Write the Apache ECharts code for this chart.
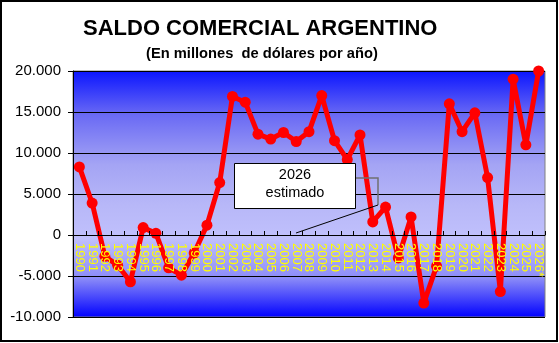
<!DOCTYPE html>
<html>
<head>
<meta charset="utf-8">
<script src="https://cdn.jsdelivr.net/npm/echarts@6/dist/echarts.min.js"></script>
<style>
  html, body { margin: 0; padding: 0; background: #fff; }
  #chart { width: 559px; height: 343px; }
</style>
</head>
<body>
<div id="chart"></div>
<script>
// Argentine trade balance, millions of US dollars per year
const years = ['1990','1991','1992','1993','1994','1995','1996','1997','1998','1999',
  '2000','2001','2002','2003','2004','2005','2006','2007','2008','2009',
  '2010','2011','2012','2013','2014','2015','2016','2017','2018','2019',
  '2020','2021','2022','2023','2024','2025','2026*'];
const balance = [8300, 3900, -2600, -3700, -5700, 900, 200, -4000, -4900, -2200,
  1200, 6400, 16900, 16200, 12300, 11700, 12500, 11400, 12600, 17000,
  11500, 9200, 12200, 1600, 3400, -2800, 2200, -8300, -3800, 16000,
  12600, 14900, 7000, -6900, 19000, 11000, 20000];
const yTicks = { min: -10000, max: 20000, step: 5000 };

const FONT = '"Liberation Sans", Arial, sans-serif';

function thousands(v) {
  const s = String(Math.abs(v)).replace(/\B(?=(\d{3})+(?!\d))/g, '.');
  return (v < 0 ? '-' : '') + s;
}

const chart = echarts.init(document.getElementById('chart'), null, { renderer: 'canvas' });

chart.setOption({
  backgroundColor: '#ffffff',
  animation: false,
  title: [
    {
      text: 'SALDO COMERCIAL ARGENTINO',
      left: 83, top: 18, padding: 0,
      textStyle: { fontFamily: FONT, fontSize: 22, fontWeight: 'bold', color: '#000' }
    },
    {
      text: '(En millones  de dólares por año)',
      left: 146, top: 46, padding: 0,
      textStyle: { fontFamily: FONT, fontSize: 14.7, fontWeight: 'bold', color: '#000' }
    }
  ],
  grid: {
    left: 73, right: 14, top: 71, bottom: 26,
    containLabel: false,
    outerBoundsMode: 'none',
    show: true,
    borderColor: '#808080',
    borderWidth: 1,
    backgroundColor: {
      type: 'linear', x: 0, y: 0, x2: 0, y2: 1,
      colorStops: [
        { offset: 0.00, color: '#0a14ff' },
        { offset: 0.18, color: '#6a6af4' },
        { offset: 0.38, color: '#a4a4f4' },
        { offset: 0.55, color: '#b8b8f8' },
        { offset: 0.68, color: '#c0c0fc' },
        { offset: 0.84, color: '#8c8cf8' },
        { offset: 1.00, color: '#0000ff' }
      ]
    }
  },
  xAxis: {
    type: 'category',
    data: years,
    z: 5,
    offset: 0,
    axisLine: { onZero: false, lineStyle: { color: '#000', width: 1 } },
    axisTick: { show: true, inside: true, length: 4, lineStyle: { color: '#000' } },
    axisLabel: {
      interval: 0,
      rotate: -90,
      margin: 8,
      color: '#ffff00',
      fontFamily: FONT,
      fontSize: 13
    },
    splitLine: { show: false }
  },
  yAxis: {
    type: 'value',
    min: yTicks.min, max: yTicks.max, interval: yTicks.step,
    axisLine: { show: true, lineStyle: { color: '#000', width: 1 } },
    axisTick: { show: true, length: 5, lineStyle: { color: '#000' } },
    axisLabel: {
      margin: 12,
      color: '#000',
      fontFamily: FONT,
      fontSize: 15,
      formatter: thousands
    },
    splitLine: { show: true, lineStyle: { color: '#000', width: 1 } }
  },
  series: [{
    type: 'line',
    data: balance,
    z: 3,
    symbol: 'circle',
    symbolSize: 11,
    lineStyle: { color: '#ff0000', width: 5 },
    itemStyle: { color: '#ff0000' }
  }],
  graphic: [
    // outer frame
    {
      type: 'rect', z: 100, silent: true,
      shape: { x: 1, y: 1, width: 556, height: 340 },
      style: { fill: 'none', stroke: '#000', lineWidth: 2 }
    },
    // callout leader
    {
      type: 'polyline', z: 50, silent: true,
      shape: { points: [[356, 178], [378, 178], [378, 205]] },
      style: { fill: 'none', stroke: '#707070', lineWidth: 1.5 }
    },
    {
      type: 'line', z: 50, silent: true,
      shape: { x1: 378, y1: 205, x2: 296, y2: 233 },
      style: { stroke: '#000', lineWidth: 1 }
    },
    // callout box
    {
      type: 'rect', z: 51, silent: true,
      shape: { x: 234.5, y: 163.5, width: 121, height: 45 },
      style: { fill: '#fff', stroke: '#000', lineWidth: 1 }
    },
    {
      type: 'text', z: 52, silent: true,
      style: {
        x: 295, y: 175, text: '2026', align: 'center', verticalAlign: 'middle',
        font: '14.5px ' + FONT, fill: '#000'
      }
    },
    {
      type: 'text', z: 52, silent: true,
      style: {
        x: 295, y: 193, text: 'estimado', align: 'center', verticalAlign: 'middle',
        font: '14.5px ' + FONT, fill: '#000'
      }
    }
  ]
});

// Lift the category axis (line, ticks and labels) up to the zero line.
const zeroY = chart.convertToPixel({ yAxisIndex: 0 }, 0);
const baseY = chart.convertToPixel({ yAxisIndex: 0 }, yTicks.min);
chart.setOption({ xAxis: { offset: -(baseY - zeroY) } });
</script>
</body>
</html>
